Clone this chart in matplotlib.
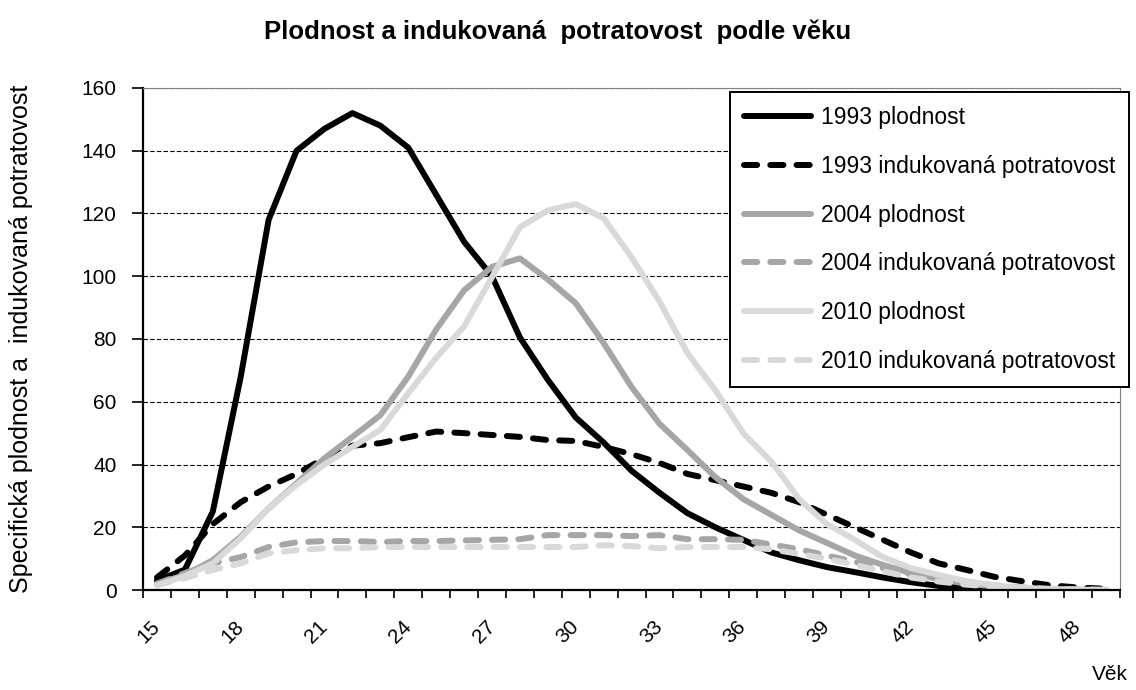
import numpy as np
import matplotlib.pyplot as plt

plt.rcParams['font.family'] = ['Liberation Sans', 'DejaVu Sans']

# ages 15..49
ages = list(range(15, 50))
tick_ages = ages[::3]

# specific rates per 1000 women
plod_1993 = [3, 6.5, 25, 68, 118, 140, 147, 152, 148, 141, 126, 111, 100, 80.5, 67,
             55, 47, 38, 31, 24.5, 20, 16, 12, 9.5, 7.3, 5.7, 4, 2.5, 1.3, 0.7,
             0.3, 0.1, 0.05, 0, 0]
ind_1993 = [4, 11, 21, 28, 33, 37, 42, 46, 46.8, 48.7, 50.5, 50, 49.4, 48.8, 47.8,
            47.5, 45.6, 43.3, 40.5, 37, 35, 33, 31, 28, 24, 20, 16, 12, 8.5, 6.4,
            4.2, 2.8, 1.5, 0.8, 0.4]
plod_2004 = [2, 4.8, 9.5, 17, 26, 34, 42, 48.8, 55.7, 68, 83, 95.5, 103, 105.7, 99,
             91.4, 78.7, 64.7, 53, 44.6, 36, 29, 24, 19, 15, 11, 8, 5.4, 3.5, 2,
             1.1, 0.5, 0.2, 0.1, 0]
ind_2004 = [2, 5.4, 8.5, 10.5, 13.7, 15.2, 15.6, 15.6, 15.3, 15.6, 15.6, 15.8, 16, 16.2, 17.5,
            17.5, 17.5, 17.2, 17.5, 16.2, 16.2, 16, 14.5, 13, 11, 9, 7, 5, 3.5, 2.5,
            1.5, 0.8, 0.4, 0.2, 0.1]
plod_2010 = [1.5, 4.5, 8.5, 16.5, 26, 33.5, 40, 45.6, 51, 62.7, 74, 84, 99.7, 115.6, 121,
             123, 118.5, 106, 92, 75.5, 63.7, 50, 41, 29, 21, 16, 10.5, 7, 4.8, 2.8,
             1.5, 0.7, 0.3, 0.1, 0]
ind_2010 = [1.5, 3.8, 6.4, 8.5, 11.7, 12.7, 13.3, 13.3, 13.7, 13.7, 13.7, 13.7, 13.7, 13.7, 13.7,
            13.7, 14.3, 14, 13.3, 13.7, 13.7, 13.7, 13, 11.5, 10, 8, 6, 4, 2.7, 1.7,
            1, 0.5, 0.2, 0.1, 0]

labels = ['1993 plodnost', '1993 indukovaná potratovost',
          '2004 plodnost', '2004 indukovaná potratovost',
          '2010 plodnost', '2010 indukovaná potratovost']
series = [plod_1993, ind_1993, plod_2004, ind_2004, plod_2010, ind_2010]
colors = ['#000000', '#000000', '#a6a6a6', '#a6a6a6', '#d9d9d9', '#d9d9d9']

fig = plt.figure(figsize=(11.36, 6.9), dpi=100)
ax = fig.add_axes([0.1259, 0.1449, 0.8601, 0.7276])

x = np.arange(len(ages))
for i, (s, lab, c) in enumerate(zip(series, labels, colors)):
  ln, = ax.plot(x, s, color=c, lw=4.3, label=lab,
                solid_capstyle='round', solid_joinstyle='round')
  # odd series are the dashed abortion rates
  if i % 2:
    ln.set_dashes((2.2, 2.2))
    ln.set_dash_capstyle('round')

# axes
ax.set_xlim(-0.5, len(ages) - 0.5)
ax.set_ylim(0, 160)
ax.set_yticks(range(0, 161, 20))
ax.set_xticks([ages.index(a) for a in tick_ages])
ax.set_xticklabels([str(a) for a in tick_ages], rotation=45,
                   ha='right', va='center', rotation_mode='anchor')
ax.set_xticks(np.arange(-0.5, len(ages)), minor=True)
ax.tick_params(axis='x', which='major', length=0, pad=24, labelsize=15)
ax.tick_params(axis='x', which='minor', length=6, width=1.2, direction='out')
ax.tick_params(axis='y', length=8, width=1.2, pad=11, labelsize=15)

for y in range(20, 161, 20):
  ax.axhline(y, color='black', lw=0.8, dashes=(4, 2), zorder=0)

for sp in ['left', 'bottom']:
  ax.spines[sp].set_linewidth(1.6)
for sp in ['top', 'right']:
  ax.spines[sp].set_color('#808080')
  ax.spines[sp].set_linewidth(0.8)

ax.set_ylabel('Specifická plodnost a  indukovaná potratovost', fontsize=18)
ax.yaxis.set_label_coords(-0.113, 0.5)

fig.text(0.491, 0.954, 'Plodnost a indukovaná  potratovost  podle věku',
         ha='center', va='center', fontsize=18.5, fontweight='bold')
fig.text(0.977, 0.022, 'Věk', ha='center', va='center', fontsize=15)

leg = ax.legend(loc='upper left', bbox_to_anchor=(730 / 1136, 1 - 92 / 690),
                bbox_transform=fig.transFigure, borderaxespad=0,
                fontsize=16.5, handlelength=2.9, handletextpad=0.44,
                labelspacing=1.12, borderpad=0.62, fancybox=False,
                framealpha=1, edgecolor='black')
leg.get_frame().set_linewidth(1.4)

plt.savefig('out.png', dpi=100, facecolor='white')
